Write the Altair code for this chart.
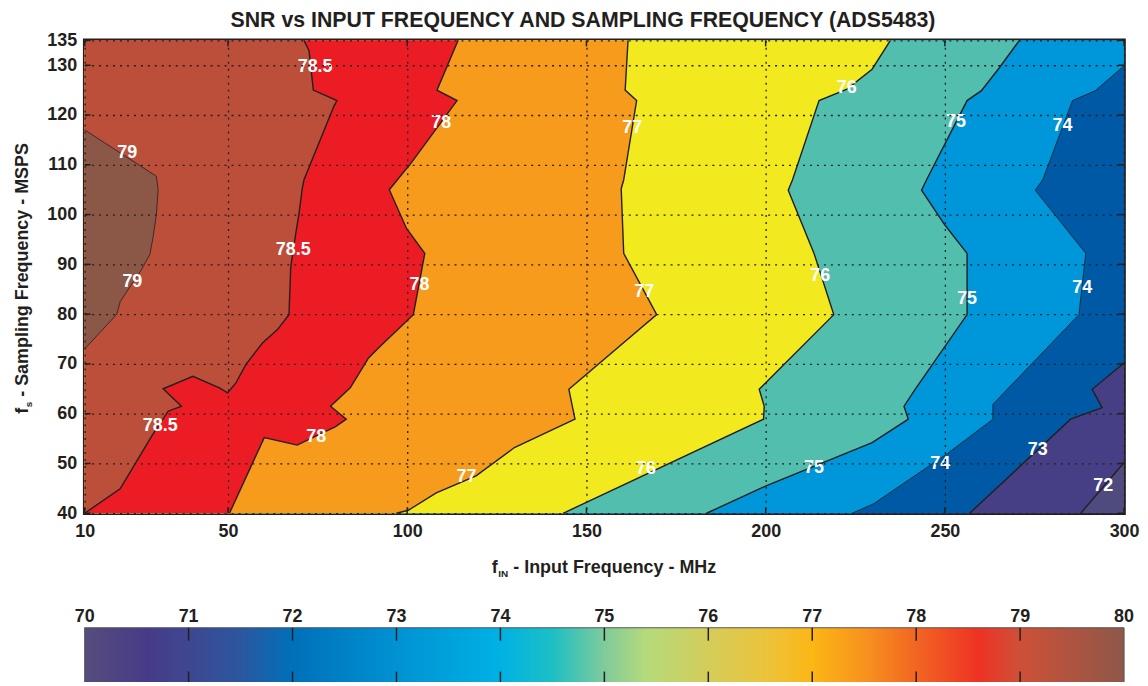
import altair as alt
import pandas as pd

# ---------------- data ----------------
title_text = "SNR vs INPUT FREQUENCY AND SAMPLING FREQUENCY (ADS5483)"
x_title_parts = ["f", "IN", "- Input Frequency - MHz"]
y_title_parts = ["f", "s", "- Sampling Frequency - MSPS"]

x_domain = [10, 300]
y_domain = [40, 135]
x_ticks = [10, 50, 100, 150, 200, 250, 300]
y_ticks = [40, 50, 60, 70, 80, 90, 100, 110, 120, 130, 135]

levels = [72, 73, 74, 75, 76, 77, 78, 78.5, 79]

c72_x = [300, 287.9]
c72_y = [50.2, 40]
c73_x = [300, 291.1, 293.9, 285.1, 256.9]
c73_y = [70.2, 64.9, 61.2, 58.9, 40]
c74_x = [300, 292, 285.6, 277.3, 275.2, 289.3, 287.4, 263.4, 263.4, 250.5, 230.1, 224.1]
c74_y = [129.9, 124.9, 122.9, 107, 104.9, 92.2, 79.9, 61.9, 58.9, 51.9, 41.9, 40]
c75_x = [270.8, 265.2, 260.2, 256.2, 244.9, 243.5, 250, 256.2, 256.2, 241.7, 238.6, 239.8, 229.7, 200.1, 183.5]
c75_y = [135, 129.5, 124.9, 122.9, 107, 104.9, 97.9, 92.2, 79.9, 64.9, 61.5, 58.9, 54.2, 45.5, 40]
c76_x = [234.8, 229.7, 222.7, 214.9, 207.5, 206.3, 213.5, 219, 198.2, 199.6, 199.4, 143.5]
c76_y = [135, 129.2, 125.2, 122.9, 107, 104.9, 92.2, 79.9, 64.9, 61.5, 58.9, 40]
c77_x = [161.6, 160.8, 164, 160.4, 159.7, 160.4, 169.6, 145.1, 146.8, 129.9, 119.2, 108.1, 100.3, 97]
c77_y = [135, 125, 122.9, 107, 105.2, 92.2, 79.9, 64.9, 58.9, 53.2, 47.5, 44.1, 40.6, 40]
c78_x = [114.2, 108.3, 113.9, 100.7, 99.4, 95, 99.8, 104.9, 101.7, 92.4, 89.2, 84.1, 78.6, 83, 80, 69.3, 60.1, 50.4]
c78_y = [135, 125, 122.9, 110, 108.9, 105, 97.2, 92.2, 79.9, 73.5, 71.2, 65.2, 61.5, 58.9, 57.4, 53.7, 55.2, 40]
c785_x = [71.2, 72.6, 73.8, 80.4, 79.5, 71.2, 70.7, 69.8, 68.9, 67.5, 67, 63.8, 59.6, 55, 52.2, 49.9, 47.6, 40.2, 31.9, 37, 33.3, 28.7, 19.9, 10]
c785_y = [135, 132.9, 125, 122.9, 121.7, 107, 105.2, 100.2, 96.2, 89.5, 79.9, 76.9, 74.2, 69.9, 66.2, 64.2, 65.2, 67.5, 65, 61.5, 60.5, 55.5, 44.9, 40]
c79_x = [10, 30, 30.5, 30, 29.1, 28.2, 25.9, 23.1, 19.9, 19, 10]
c79_y = [117, 107.7, 105, 100, 95.5, 92, 89, 86, 82.5, 80, 73]

contours = {
    72: (c72_x, c72_y), 73: (c73_x, c73_y), 74: (c74_x, c74_y),
    75: (c75_x, c75_y), 76: (c76_x, c76_y), 77: (c77_x, c77_y),
    78: (c78_x, c78_y), 78.5: (c785_x, c785_y), 79: (c79_x, c79_y),
}

base_color = "#4F4B7F"
band_colors = ["#463F85", "#0059A4", "#0096DA", "#52BFAE", "#F2EA1E",
               "#F79B1D", "#EC1C24", "#BB4F3A", "#8B5747"]
thin_levels = [74, 79]

label_x = [74.3, 21.9, 109.5, 162.8, 222.6, 253.1, 282.8, 68.2, 23.3, 103.4, 166.1,
           215.2, 256.2, 288.3, 31.1, 74.6, 116.5, 166.6, 213.5, 248.7, 275.9, 294.2]
label_y = [129.7, 112.3, 118.3, 117.3, 125.5, 118.5, 117.7, 92.9, 86.5, 85.9, 84.5,
           87.7, 83.1, 85.3, 57.5, 55.3, 47.3, 48.9, 49.1, 49.9, 52.7, 45.5]
label_text = ["78.5", "79", "78", "77", "76", "75", "74", "78.5", "79", "78", "77",
              "76", "75", "74", "78.5", "78", "77", "76", "75", "74", "73", "72"]

cb_ticks = [70, 71, 72, 73, 74, 75, 76, 77, 78, 79, 80]
cb_stop_values = [70, 70.6, 71, 71.5, 72, 73, 74, 74.5, 75, 75.4, 76, 76.6, 77, 77.5, 78, 78.6, 79, 80]
cb_stop_colors = ["#574C7C", "#473B88", "#3E4790", "#2B57A0", "#0070BA", "#0092D3",
                  "#00B1E4", "#1CBFC4", "#7FCB9B", "#B5DA7B", "#D4CD5A", "#EDC238",
                  "#FCB615", "#F7931E", "#F26522", "#EE3224", "#CD5038", "#8E5849"]

# ---------------- layout / style ----------------
W, H = 1044, 475
LEFT = 77
FONT = "Liberation Sans"
INK = "#231F20"

X0, X1 = x_domain
Y0, Y1 = y_domain
PW, PH = X1 - X0, Y1 - Y0
PER = 2 * (PW + PH)


def perim(x, y):
    if abs(x - X0) < 1e-9:
        return y - Y0
    if abs(y - Y1) < 1e-9:
        return PH + (x - X0)
    if abs(x - X1) < 1e-9:
        return PH + PW + (Y1 - y)
    return 2 * PH + PW + (X1 - x)


corner_list = [(0, (X0, Y0)), (PH, (X0, Y1)), (PH + PW, (X1, Y1)), (2 * PH + PW, (X1, Y0))]


def polygon(xs, ys):
    pts = list(zip(xs, ys))
    t_end = perim(*pts[-1])
    t_start = perim(*pts[0])
    span = (t_start - t_end) % PER
    extra = []
    for tc, c in sorted(corner_list, key=lambda k: (k[0] - t_end) % PER):
        d = (tc - t_end) % PER
        if 0 < d < span:
            extra.append(c)
    return pts + extra


xs = alt.Scale(domain=x_domain, nice=False, zero=False)
ys = alt.Scale(domain=y_domain, nice=False, zero=False)
ax_x = alt.Axis(values=x_ticks, title="", grid=True, zindex=1, labelPadding=9,
                labelFlush=False, labelOverlap=False, domain=False, ticks=False)
ax_y = alt.Axis(values=y_ticks, title="", grid=True, zindex=1, labelPadding=8,
                labelFlush=False, labelOverlap=False, domain=False, ticks=False)


def X(f):
    return alt.X(f, scale=xs, axis=ax_x)


def Y(f):
    return alt.Y(f, scale=ys, axis=ax_y)


# background (lowest band)
bg = alt.Chart(pd.DataFrame({"x": [X0], "b": [X1], "y": [Y0], "d": [Y1]})).mark_rect(
    color=base_color
).encode(x=X("x:Q"), x2="b:Q", y=Y("y:Q"), y2="d:Q")

layers = [bg]
for lev, col in zip(levels, band_colors):
    cx, cy = contours[lev]
    poly = polygon(cx, cy)
    df = pd.DataFrame({"x": [p[0] for p in poly], "y": [p[1] for p in poly],
                       "i": list(range(len(poly)))})
    layers.append(
        alt.Chart(df).mark_line(fill=col, strokeOpacity=0).encode(
            x=X("x:Q"), y=Y("y:Q"), order="i:Q")
    )

rows = []
for lev in levels:
    cx, cy = contours[lev]
    for i, (a, b) in enumerate(zip(cx, cy)):
        rows.append({"x": a, "y": b, "i": i, "lev": str(lev), "thin": lev in thin_levels})
lines_df = pd.DataFrame(rows)
for thin, sw in [(False, 1.4), (True, 0.8)]:
    layers.append(
        alt.Chart(lines_df[lines_df["thin"] == thin]).mark_line(color=INK, strokeWidth=sw).encode(
            x=X("x:Q"), y=Y("y:Q"), detail="lev:N", order="i:Q")
    )

lab_df = pd.DataFrame({"x": label_x, "y": label_y, "t": label_text})
layers.append(
    alt.Chart(lab_df).mark_text(font=FONT, fontSize=18, fontWeight="bold", color="white").encode(
        x=X("x:Q"), y=Y("y:Q"), text="t:N")
)

# inward ticks
xt = pd.DataFrame({"x": x_ticks})
yt = pd.DataFrame({"y": y_ticks})
for ya, yb in [(H, H - 6), (0, 6)]:
    layers.append(alt.Chart(xt).mark_rule(color=INK, strokeWidth=1.5).encode(
        x=X("x:Q"), y=alt.value(ya), y2=alt.value(yb)))
for xa, xb in [(0, 6), (W, W - 6)]:
    layers.append(alt.Chart(yt).mark_rule(color=INK, strokeWidth=1.5).encode(
        y=Y("y:Q"), x=alt.value(xa), x2=alt.value(xb)))


# titles (text marks so that subscripts can be drawn)
def txt(s):
    return pd.DataFrame({"t": [s]})


def tmark(s, size, x, y, angle=0):
    kw = dict(font=FONT, fontSize=size, fontWeight="bold", color=INK,
              baseline="alphabetic", align="left")
    if angle:
        kw["angle"] = angle
    return alt.Chart(txt(s)).mark_text(**kw).encode(x=alt.value(x), y=alt.value(y), text="t:N")


layers.append(alt.Chart(txt(title_text)).mark_text(
    font=FONT, fontSize=21.4, fontWeight="bold", color=INK, baseline="alphabetic", align="center"
).encode(x=alt.value(585.5 - 8 - LEFT), y=alt.value(-13.6), text="t:N"))

xt0 = 494 - 8 - LEFT
layers.append(tmark(x_title_parts[0], 18, xt0, 535.5))
layers.append(tmark(x_title_parts[1], 10, xt0 + 6.5, 539.5))
layers.append(tmark(x_title_parts[2], 18, xt0 + 21.5, 535.5))

ytx = 28.5 - 8 - LEFT
yt0 = 375
layers.append(tmark(y_title_parts[0], 18, ytx, yt0, 270))
layers.append(tmark(y_title_parts[1], 10, ytx + 4, yt0 - 6.5, 270))
layers.append(tmark(y_title_parts[2], 18, ytx, yt0 - 17, 270))

main = alt.layer(*layers)

# ---------------- colorbar ----------------
cbs = alt.Scale(domain=[cb_ticks[0], cb_ticks[-1]], nice=False, zero=False)
lo, hi = cb_ticks[0], cb_ticks[-1]
grad = alt.LinearGradient(
    gradient="linear", x1=0, x2=1, y1=0, y2=0,
    stops=[alt.GradientStop(offset=(v - lo) / (hi - lo), color=c)
           for v, c in zip(cb_stop_values, cb_stop_colors)],
)
CB_TOP, CB_BOT = 590, 646
cb_rect = alt.Chart(pd.DataFrame({"lo": [lo], "hi": [hi]})).mark_rect(
    fill=grad, stroke="#555555", strokeWidth=1
).encode(x=alt.X("lo:Q", scale=cbs, axis=None), x2="hi:Q",
         y=alt.value(CB_TOP), y2=alt.value(CB_BOT))
cbt = pd.DataFrame({"v": cb_ticks[1:-1]})
cb_t1 = alt.Chart(cbt).mark_rule(color=INK, strokeWidth=1.5).encode(
    x=alt.X("v:Q", scale=cbs, axis=None), y=alt.value(CB_TOP), y2=alt.value(CB_TOP + 13))
cb_t2 = alt.Chart(cbt).mark_rule(color=INK, strokeWidth=1.5).encode(
    x=alt.X("v:Q", scale=cbs, axis=None), y=alt.value(CB_BOT - 12), y2=alt.value(CB_BOT))
cb_lab = alt.Chart(pd.DataFrame({"v": cb_ticks, "t": [str(v) for v in cb_ticks]})).mark_text(
    font=FONT, fontSize=18, fontWeight="bold", color=INK, baseline="alphabetic", align="center"
).encode(x=alt.X("v:Q", scale=cbs, axis=None), y=alt.value(584.5), text="t:N")
cbar = alt.layer(cb_rect, cb_t1, cb_t2, cb_lab)

chart = alt.layer(main, cbar).resolve_scale(x="independent").properties(
    width=W, height=H,
    autosize=alt.AutoSizeParams(type="none"),
    padding={"left": LEFT, "top": 31, "right": 16, "bottom": 168},
).configure_view(
    stroke=INK, strokeWidth=3.5
).configure_axis(
    labelFont=FONT, labelFontSize=18, labelFontWeight="bold", labelColor=INK,
    gridColor=INK, gridDash=[2, 5], gridWidth=1.3, gridOpacity=1,
)

chart.save("out.html", embed_options={"renderer": "svg", "actions": False})
